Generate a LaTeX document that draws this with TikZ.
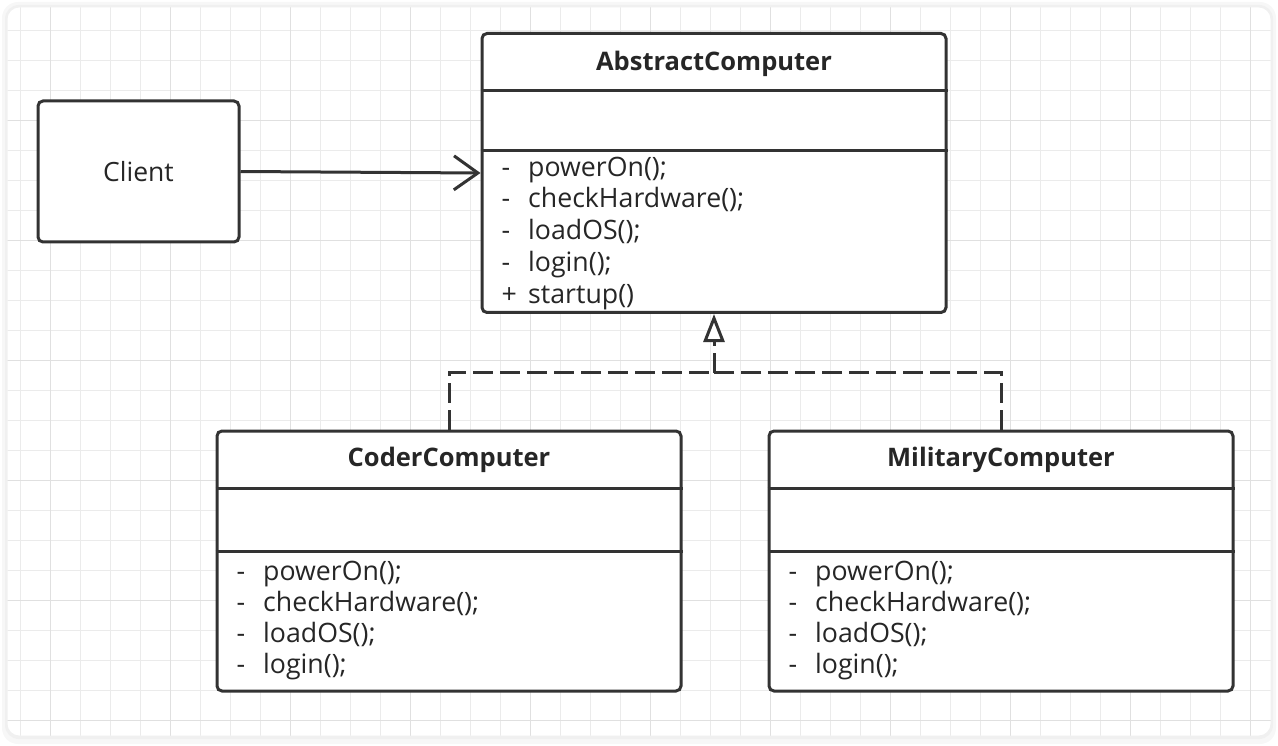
\documentclass[tikz,border=0pt]{standalone}
\usepackage{fontspec}
\setmainfont{Open Sans}
\usepackage{tikz}
\usetikzlibrary{arrows.meta}

\tikzset{
  classbox/.style={draw=black!80,line width=3pt,rounded corners=5pt,fill=white,minimum width=464pt,inner sep=0pt},
  clientbox/.style={draw=black!80,line width=3pt,rounded corners=5pt,fill=white,minimum width=201pt,minimum height=141pt,font=\fontsize{26.5}{30}\selectfont,text=black!85},
  classtitle/.style={anchor=base,inner sep=0pt,font=\fontsize{25.5}{30}\selectfont\bfseries,text=black!85},
  member/.style={anchor=base west,inner sep=0pt,font=\fontsize{26.7}{30}\selectfont,text=black!85},
  compartment/.style={draw=black!80,line width=3pt},
  assoc/.style={draw=black!80,line width=3pt,-{Straight Barb[length=24pt,width=34pt]}},
  realize/.style={draw=black!80,line width=3pt,dash pattern=on 20pt off 7pt},
  gridminor/.style={draw=black!8,line width=1.5pt},
  gridmajor/.style={draw=black!12,line width=1.5pt}
}

\begin{document}
\begin{tikzpicture}[x=1pt,y=-1pt]
\useasboundingbox (0,0) rectangle (1278,746);

% frame with grid paper
\fill[black!3,rounded corners=16pt] (2,2) rectangle (1276,744);
\fill[black!6,rounded corners=14pt] (5,5) rectangle (1273,739);

\begin{scope}
\clip[rounded corners=12pt] (7.5,7.5) rectangle (1270.5,735.5);
\fill[white] (0,0) rectangle (1278,746);
\foreach \gx in {20.7,50.7,...,1270}
   \draw[gridminor] (\gx,0) -- (\gx,746);
\foreach \gy in {0.7,30.7,...,740}
   \draw[gridminor] (0,\gy) -- (1278,\gy);
\foreach \gx in {50.7,170.7,...,1270}
   \draw[gridmajor] (\gx,0) -- (\gx,746);
\foreach \gy in {0.7,120.7,...,740}
   \draw[gridmajor] (0,\gy) -- (1278,\gy);
\end{scope}

% classes
\node[clientbox] (client) at (138.5,171.5) {Client};

\node[classbox,minimum height=279pt] (abs) at (714,173) {};
\draw[compartment] ([yshift=-58.7pt]abs.north west) -- ([yshift=-58.7pt]abs.north east);
\draw[compartment] ([yshift=-118.7pt]abs.north west) -- ([yshift=-118.7pt]abs.north east);
\node[classtitle] (absName) at ([yshift=-38.8pt]abs.north) {AbstractComputer};
\foreach \mk/\txt [count=\i] in {-/powerOn();,-/checkHardware();,-/loadOS();,-/login();,+/startup()}
   \node[member] (absM\i) at ([xshift=21pt,yshift={-144.3pt-31.7pt*(\i-1)}]abs.north west) {\makebox[26.5pt][l]{\mk}\txt};

\node[classbox,minimum height=260pt] (coder) at (449,561) {};
\draw[compartment] ([yshift=-59pt]coder.north west) -- ([yshift=-59pt]coder.north east);
\draw[compartment] ([yshift=-122.3pt]coder.north west) -- ([yshift=-122.3pt]coder.north east);
\node[classtitle] (coderName) at ([yshift=-36.8pt]coder.north) {CoderComputer};
\foreach \mk/\txt [count=\i] in {-/powerOn();,-/checkHardware();,-/loadOS();,-/login();}
   \node[member] (coderM\i) at ([xshift=21pt,yshift={-150.7pt-31.2pt*(\i-1)}]coder.north west) {\makebox[26.5pt][l]{\mk}\txt};

\node[classbox,minimum height=260pt] (military) at (1001,561) {};
\draw[compartment] ([yshift=-59pt]military.north west) -- ([yshift=-59pt]military.north east);
\draw[compartment] ([yshift=-122.3pt]military.north west) -- ([yshift=-122.3pt]military.north east);
\node[classtitle] (militaryName) at ([yshift=-36.8pt]military.north) {MilitaryComputer};
\foreach \mk/\txt [count=\i] in {-/powerOn();,-/checkHardware();,-/loadOS();,-/login();}
   \node[member] (militaryM\i) at ([xshift=21pt,yshift={-150.7pt-31.2pt*(\i-1)}]military.north west) {\makebox[26.5pt][l]{\mk}\txt};

% relations
\draw[assoc] (client.east) -- (abs.west);

\coordinate (join) at ([yshift=-58.5pt]abs.south);
\draw[realize] (coder.north) |- (join);
\draw[realize] (military.north) |- (join);
\draw[realize,-{Triangle[open,length=28pt,width=21pt,fill=white]}] (join) -- (abs.south);
\end{tikzpicture}
\end{document}
